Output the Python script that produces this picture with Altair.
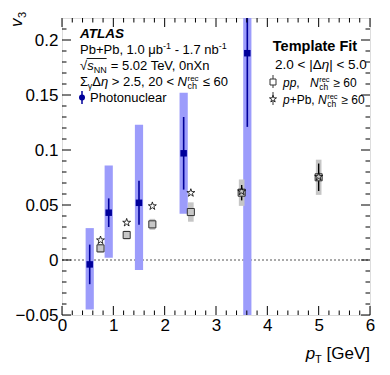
import altair as alt
import pandas as pd

# ---------------- data ----------------
pn_x = [0.54, 0.91, 1.50, 2.37, 3.61]
pn_y = [-0.004, 0.043, 0.052, 0.097, 0.188]
pn_stat_lo = [-0.022, 0.030, 0.032, 0.064, 0.121]
pn_stat_hi = [0.014, 0.056, 0.072, 0.130, 0.256]
pn_sys_lo = [-0.045, 0.002, -0.009, 0.042, -0.08]
pn_sys_hi = [0.029, 0.086, 0.123, 0.152, 0.45]

pp_x = [0.75, 1.26, 1.76, 2.51, 3.50, 5.00]
pp_y = [0.0106, 0.0227, 0.0324, 0.0436, 0.0612, 0.0752]
pp_stat = [0.002, 0.002, 0.002, 0.003, 0.007, 0.0125]
pp_sys = [0.004, 0.004, 0.005, 0.0088, 0.012, 0.016]

ppb_x = [0.75, 1.26, 1.76, 2.51, 3.50, 5.00]
ppb_y = [0.018, 0.034, 0.049, 0.061, 0.0624, 0.0757]

x_major = [0, 1, 2, 3, 4, 5, 6]
x_minor = [0.2, 0.4, 0.6, 0.8, 1.2, 1.4, 1.6, 1.8, 2.2, 2.4, 2.6, 2.8,
           3.2, 3.4, 3.6, 3.8, 4.2, 4.4, 4.6, 4.8, 5.2, 5.4, 5.6, 5.8]
y_major = [-0.05, 0, 0.05, 0.1, 0.15, 0.2]
y_minor = [-0.04, -0.03, -0.02, -0.01, 0.01, 0.02, 0.03, 0.04, 0.06, 0.07,
           0.08, 0.09, 0.11, 0.12, 0.13, 0.14, 0.16, 0.17, 0.18, 0.19, 0.21]

# ---------------- layout ----------------
W, H = 308, 297
OX, OY = 62, 18          # page position of plot origin
FONT = "Liberation Sans"
NAVY = "#00009a"
BLUEBOX = "#9c9cfb"
GREYBOX = "#c6c6c6"

xs = alt.Scale(domain=[0, 6], nice=False, zero=False)
ys = alt.Scale(domain=[-0.05, 0.22], nice=False, zero=False)
xaxis = alt.Axis(values=x_major, format="~g", ticks=False, domain=False, grid=False,
                 labelFont=FONT, labelFontSize=17, labelColor="black",
                 labelPadding=2, labelFlush=False, labelOverlap=False, title=None)
yaxis = alt.Axis(values=y_major, format="~g", ticks=False, domain=False, grid=False,
                 labelFont=FONT, labelFontSize=17, labelColor="black",
                 labelPadding=4, labelOverlap=False, title=None)


def X(f):
    return alt.X(f, type="quantitative", scale=xs, axis=xaxis)


def Y(f):
    return alt.Y(f, type="quantitative", scale=ys, axis=yaxis)


pn = pd.DataFrame({"x": pn_x, "y": pn_y, "slo": pn_stat_lo, "shi": pn_stat_hi,
                   "ylo": pn_sys_lo, "yhi": pn_sys_hi})
pp = pd.DataFrame({"x": pp_x, "y": pp_y, "stat": pp_stat, "sys": pp_sys})
ppb = pd.DataFrame({"x": ppb_x, "y": ppb_y})

layers = []

# zero line
layers.append(alt.Chart(pd.DataFrame({"y": [0]})).mark_rule(
    color="#555555", strokeDash=[2, 2], strokeWidth=1).encode(
    y=Y("y"), x=alt.value(0), x2=alt.value(W)))

# sys boxes
layers.append(alt.Chart(pn).transform_calculate(
    xl="datum.x - 0.08", xr="datum.x + 0.08").mark_rect(
    color=BLUEBOX, clip=True).encode(x=X("xl"), x2="xr", y=Y("ylo"), y2="yhi"))
layers.append(alt.Chart(pp).transform_calculate(
    xl="datum.x - 0.055", xr="datum.x + 0.055",
    yl="datum.y - datum.sys", yh="datum.y + datum.sys").mark_rect(
    color=GREYBOX).encode(x=X("xl"), x2="xr", y=Y("yl"), y2="yh"))

# stat bars
layers.append(alt.Chart(pn).mark_rule(color=NAVY, strokeWidth=1.6, clip=True).encode(
    x=X("x"), y=Y("slo"), y2="shi"))
layers.append(alt.Chart(pp).transform_calculate(
    yl="datum.y - datum.stat", yh="datum.y + datum.stat").mark_rule(
    color="black", strokeWidth=1.4).encode(x=X("x"), y=Y("yl"), y2="yh"))

STAR = ("M0,-1L0.2245,-0.309L0.951,-0.309L0.363,0.118L0.588,0.809L0,0.382"
        "L-0.588,0.809L-0.363,0.118L-0.951,-0.309L-0.2245,-0.309Z")

# markers
layers.append(alt.Chart(pp).mark_point(shape="square", filled=True, size=50,
                                         fill="#c8c8c8", stroke="#333333",
                                         strokeWidth=1, opacity=1).encode(
    x=X("x"), y=Y("y")))
layers.append(alt.Chart(ppb).mark_point(shape=STAR, size=70, filled=False,
                                          color="black", strokeWidth=0.8,
                                          opacity=1).encode(x=X("x"), y=Y("y")))
layers.append(alt.Chart(pn).mark_point(shape="square", filled=True, size=42,
                                         color=NAVY, opacity=1, clip=True).encode(
    x=X("x"), y=Y("y")))

# inward ticks on all four sides
for vals, ln in ((x_major, 9), (x_minor, 4.5)):
    d = pd.DataFrame({"v": vals})
    layers.append(alt.Chart(d).mark_rule(color="black", strokeWidth=1).encode(
        x=X("v"), y=alt.value(H), y2=alt.value(H - ln)))
    layers.append(alt.Chart(d).mark_rule(color="black", strokeWidth=1).encode(
        x=X("v"), y=alt.value(0), y2=alt.value(ln)))
for vals, ln in ((y_major, 9), (y_minor, 4.5)):
    d = pd.DataFrame({"v": vals})
    layers.append(alt.Chart(d).mark_rule(color="black", strokeWidth=1).encode(
        y=Y("v"), x=alt.value(0), x2=alt.value(ln)))
    layers.append(alt.Chart(d).mark_rule(color="black", strokeWidth=1).encode(
        y=Y("v"), x=alt.value(W), x2=alt.value(W - ln)))

# ---------------- text helpers ----------------
HW = {' ': 278, '+': 584, ',': 278, '-': 333, '.': 278, '<': 584, '=': 584, '>': 584,
      '|': 260, '[': 278, ']': 278, 'A': 667, 'G': 778, 'L': 556, 'N': 722, 'P': 667,
      'S': 667, 'T': 611, 'V': 667, 'X': 667, 'F': 611, 'a': 556, 'b': 556, 'c': 500,
      'e': 556, 'h': 556, 'i': 222, 'l': 222, 'm': 833, 'n': 556, 'o': 556, 'p': 556,
      'r': 333, 's': 500, 't': 278, 'u': 556, 'v': 500, 'y': 500, 'μ': 576, 'Σ': 600,
      'Δ': 668, 'η': 556, 'γ': 500, '≤': 549, '≥': 549, '√': 549, '−': 584}
for c in "0123456789":
    HW[c] = 556
HB = dict(HW)
HB.update({'T': 611, 'e': 556, 'm': 889, 'p': 611, 'l': 278, 'a': 556, 't': 333,
           'F': 611, 'i': 278, 'A': 722, 'L': 611, 'S': 667})


def tw(s, size, bold=False):
    tab = HB if bold else HW
    return sum(tab.get(c, 556) for c in s) * size / 1000.0


def seg(text, px, py, size=13, style="normal", weight="normal", align="left", angle=0):
    mk = dict(align=align, baseline="alphabetic", font=FONT, fontSize=size,
              fontStyle=style, fontWeight=weight, color="black")
    if angle:
        mk["angle"] = angle
    return alt.Chart(pd.DataFrame({"t": [text]})).mark_text(**mk).encode(
        x=alt.value(px - OX), y=alt.value(py - OY), text="t:N")


def run(parts, x0, base):
    """parts: list of (text, size, style, dy). returns layers and end x.
    Leading/trailing spaces are turned into horizontal advances (SVG strips them)."""
    out = []
    x = x0
    for text, size, style, dy in parts:
        bold = "bold" in style
        lead = len(text) - len(text.lstrip(" "))
        trail = len(text) - len(text.rstrip(" "))
        core = text.strip(" ")
        x += tw(" " * lead, size, bold)
        if core:
            out.append(seg(core, x, base + dy, size,
                           style="italic" if "italic" in style else "normal",
                           weight="bold" if bold else "normal"))
            x += tw(core, size, bold)
        x += tw(" " * trail, size, bold)
    return out, x


def nch(x0, base, sign, fs=13, ss=9, rs=8):
    """N_ch^rec followed by sign and 60"""
    out = [seg("N", x0, base, fs, style="italic")]
    xn = x0 + tw("N", fs) + 0.5
    out.append(seg("rec", xn, base - 5.5, rs))
    out.append(seg("ch", xn, base + 3, ss))
    t, xe = run([(" " + sign + " 60", fs, "", 0)], xn + tw("rec", rs) + 0.5, base)
    return out + t, xe


FS = 13
SS = 9
# left block
LX = 80
layers.append(seg("ATLAS", LX, 38, 13.5, style="italic", weight="bold"))
t, _ = run([("Pb+Pb, 1.0 μb", FS, "", 0), ("-1", SS, "", -5),
            (" - 1.7 nb", FS, "", 0), ("-1", SS, "", -5)], LX, 54)
layers += t
# sqrt(s_NN)
t, xs0 = run([("√", FS, "", 0)], LX, 70)
layers += t
t, xe = run([("s", FS, "italic", 0)], xs0, 70)
layers += t
t, xe2 = run([("NN", SS, "", 3)], xe, 70)
layers += t
t, _ = run([(" = 5.02 TeV, 0nXn", FS, "", 0)], xe2 + 0.5, 70)
layers += t
layers.append(alt.Chart(pd.DataFrame({"a": [0]})).mark_rule(color="black", strokeWidth=0.9).encode(
    x=alt.value(xs0 - 0.5 - OX), x2=alt.value(xe2 - OX), y=alt.value(70 - 11.5 - OY)))
# sigma line
t, xe = run([("Σ", FS, "", 0), ("γ", SS, "", 3), ("Δ", FS, "", 0), ("η", FS, "italic", 0),
             (" > 2.5, 20 < ", FS, "", 0)], LX, 86)
layers += t
t, _ = nch(xe, 86, "≤")
layers += t
# photonuclear legend entry
layers.append(alt.Chart(pd.DataFrame({"a": [0]})).mark_rule(color=NAVY, strokeWidth=1.5).encode(
    x=alt.value(82 - OX), y=alt.value(91 - OY), y2=alt.value(104 - OY)))
layers.append(alt.Chart(pd.DataFrame({"a": [0]})).mark_point(
    shape="circle", filled=True, size=36, color=NAVY, opacity=1).encode(
    x=alt.value(82 - OX), y=alt.value(97.5 - OY)))
layers.append(seg("Photonuclear", 90, 102, FS))

# right block
layers.append(seg("Template Fit", 315, 51, 14.5, weight="bold", align="center"))
t, _ = run([("2.0 < |Δ", 13.5, "", 0), ("η", 13.5, "italic", 0), ("| < 5.0", 13.5, "", 0)],
           275, 69)
layers += t
RS = 12
RX = 283
MX = 273
t, _ = run([("pp", RS, "italic", 0), (",", RS, "", 0)], RX, 87)
layers += t
t, _ = nch(310, 87, "≥", fs=RS, ss=8.5, rs=7.5)
layers += t
t, xe = run([("p", RS, "italic", 0), ("+Pb, ", RS, "", 0)], RX, 104)
layers += t
t, _ = nch(xe, 104, "≥", fs=RS, ss=8.5, rs=7.5)
layers += t
# legend markers right
for yy in (82, 99):
    layers.append(alt.Chart(pd.DataFrame({"a": [0]})).mark_rule(color="black", strokeWidth=0.8).encode(
        x=alt.value(MX - OX), y=alt.value(yy - 7 - OY), y2=alt.value(yy + 6 - OY)))
layers.append(alt.Chart(pd.DataFrame({"a": [0]})).mark_point(
    shape="square", filled=True, size=36, fill="white", stroke="#333333", strokeWidth=1,
    opacity=1).encode(x=alt.value(MX - OX), y=alt.value(82 - OY)))
layers.append(alt.Chart(pd.DataFrame({"a": [0]})).mark_point(
    shape=STAR, size=55, filled=True, fill="white", stroke="black", strokeWidth=0.8,
    opacity=1).encode(x=alt.value(MX - OX), y=alt.value(99 - OY)))

# axis titles
TS = 17
tot = tw("p", TS) + tw("T", 11) + tw(" [GeV]", TS)
x0 = 370 - tot
t, _ = run([("p", TS, "italic", 0), ("T", 11, "", 4), (" [GeV]", TS, "", 0)], x0, 359)
layers += t
layers.append(seg("v", 22, 27, TS, style="italic", angle=270))
layers.append(seg("3", 26, 27 - tw("v", TS) - 0.5, 11, angle=270))

chart = alt.layer(*layers).properties(
    width=W, height=H,
    autosize=alt.AutoSizeParams(type="none"),
    padding={"left": OX - 8, "top": OY - 8, "right": 10, "bottom": 50},
).configure_view(stroke="black", strokeWidth=1.2).configure(background="white")

chart.save("out.html", embed_options={"renderer": "svg", "actions": False})
